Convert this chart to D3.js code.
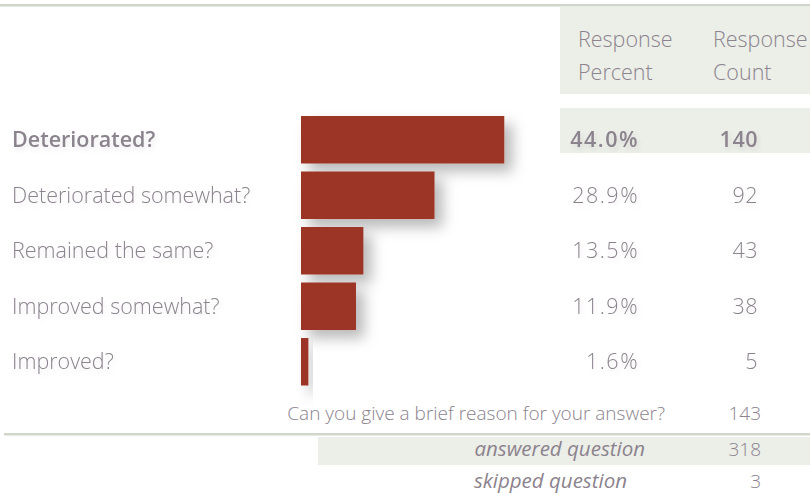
<!DOCTYPE html>
<html>
<head>
<meta charset="utf-8">
<script src="https://cdn.jsdelivr.net/npm/d3@7"></script>
<style>
  body { margin: 0; background: #fff; }
  svg text { font-family: "Open Sans", sans-serif; fill: #8b838d; }
</style>
</head>
<body>
<div id="chart"></div>
<script>
var categories = ["Deteriorated?", "Deteriorated somewhat?", "Remained the same?", "Improved somewhat?", "Improved?"];
var percents = [44.0, 28.9, 13.5, 11.9, 1.6];
var counts = [140, 92, 43, 38, 5];
var headerPercent = ["Response", "Percent"];
var headerCount = ["Response", "Count"];
var reasonLabel = "Can you give a brief reason for your answer?";
var reasonCount = 143;
var summaryLabels = ["answered question", "skipped question"];
var summaryCounts = [318, 3];

var width = 810, height = 498;
var lineColor = "#d2d5c9", boxColor = "#eceee8", barColor = "#9c3628";

var svg = d3.select("#chart").append("svg")
  .attr("width", width)
  .attr("height", height);

var defs = svg.append("defs");
defs.append("filter").attr("id", "barShadow")
  .attr("x", "-20%").attr("y", "-40%").attr("width", "170%").attr("height", "220%")
  .append("feDropShadow")
  .attr("dx", 8).attr("dy", 8).attr("stdDeviation", 7)
  .attr("flood-color", "#000").attr("flood-opacity", 0.28);
defs.append("filter").attr("id", "textShadow")
  .attr("x", "-10%").attr("y", "-50%").attr("width", "120%").attr("height", "200%")
  .append("feDropShadow")
  .attr("dx", 2).attr("dy", 3).attr("stdDeviation", 2.5)
  .attr("flood-color", "#000").attr("flood-opacity", 0.08);

var y = d3.scaleBand()
  .domain(categories)
  .range([112, 389.5])
  .paddingInner(0.144)
  .paddingOuter(0.072);

var x = d3.scaleLinear()
  .domain([0, 100])
  .range([301, 301 + 462]);

// top rule
svg.append("rect").attr("x", 0).attr("y", 4).attr("width", width).attr("height", 2.5).attr("fill", lineColor);

// header box
svg.append("rect").attr("x", 560).attr("y", 7).attr("width", 250).attr("height", 87).attr("fill", boxColor);

svg.append("text").attr("x", 578).attr("y", 47).style("font-size", "21.5px").style("font-weight", 300)
  .selectAll("tspan").data(headerPercent).enter().append("tspan")
  .attr("x", 578).attr("dy", function(d, i) { return i ? 33 : 0; })
  .text(function(d) { return d; });
svg.append("text").attr("x", 713).attr("y", 47).style("font-size", "21.5px").style("font-weight", 300)
  .selectAll("tspan").data(headerCount).enter().append("tspan")
  .attr("x", 713).attr("dy", function(d, i) { return i ? 33 : 0; })
  .text(function(d) { return d; });

// highlighted first row
svg.append("rect").attr("x", 560).attr("y", y(categories[0]) - 8).attr("width", 250).attr("height", 45).attr("fill", boxColor);

var rows = categories.map(function(c, i) { return { name: c, pct: percents[i], count: counts[i], first: i === 0 }; });

var g = svg.selectAll(".row").data(rows).enter().append("g").attr("class", "row");

g.append("rect")
  .attr("x", x(0))
  .attr("y", function(d) { return y(d.name); })
  .attr("width", function(d) { return x(d.pct) - x(0); })
  .attr("height", y.bandwidth())
  .attr("fill", barColor)
  .attr("filter", "url(#barShadow)");

var midY = function(d) { return y(d.name) + y.bandwidth() / 2 + 7.5; };

g.append("text")
  .attr("x", 12).attr("y", midY)
  .attr("filter", "url(#textShadow)")
  .style("font-size", "21.5px")
  .style("font-weight", function(d) { return d.first ? 600 : 300; })
  .text(function(d) { return d.name; });

g.append("text")
  .attr("x", 639).attr("y", midY)
  .attr("text-anchor", "end")
  .attr("filter", "url(#textShadow)")
  .style("font-size", "21.5px")
  .style("letter-spacing", "1.5px")
  .style("font-weight", function(d) { return d.first ? 600 : 300; })
  .text(function(d) { return d.pct.toFixed(1) + "%"; });

g.append("text")
  .attr("x", 758).attr("y", midY)
  .attr("text-anchor", "end")
  .attr("filter", "url(#textShadow)")
  .style("font-size", "21.5px")
  .style("letter-spacing", "0.5px")
  .style("font-weight", function(d) { return d.first ? 600 : 300; })
  .text(function(d) { return d.count; });

// reason row
svg.append("text").attr("x", 665).attr("y", 420).attr("text-anchor", "end")
  .style("font-size", "19px").style("font-weight", 300).text(reasonLabel);
svg.append("text").attr("x", 761).attr("y", 420).attr("text-anchor", "end")
  .style("font-size", "19px").style("font-weight", 300).text(reasonCount);

// bottom rule + summary
svg.append("rect").attr("x", 4).attr("y", 433).attr("width", width - 4).attr("height", 2.5).attr("fill", lineColor);
svg.append("rect").attr("x", 318).attr("y", 437).attr("width", width - 318).attr("height", 28).attr("fill", boxColor);

var summaryX = [645, 627];
summaryLabels.forEach(function(s, i) {
  var by = 456 + i * 32;
  svg.append("text").attr("x", summaryX[i]).attr("y", by).attr("text-anchor", "end")
    .style("font-size", "20.5px").style("font-style", "italic").style("font-weight", 400).text(s);
  svg.append("text").attr("x", 761).attr("y", by).attr("text-anchor", "end")
    .style("font-size", "19px").style("font-weight", 300).text(summaryCounts[i]);
});
</script>
</body>
</html>
